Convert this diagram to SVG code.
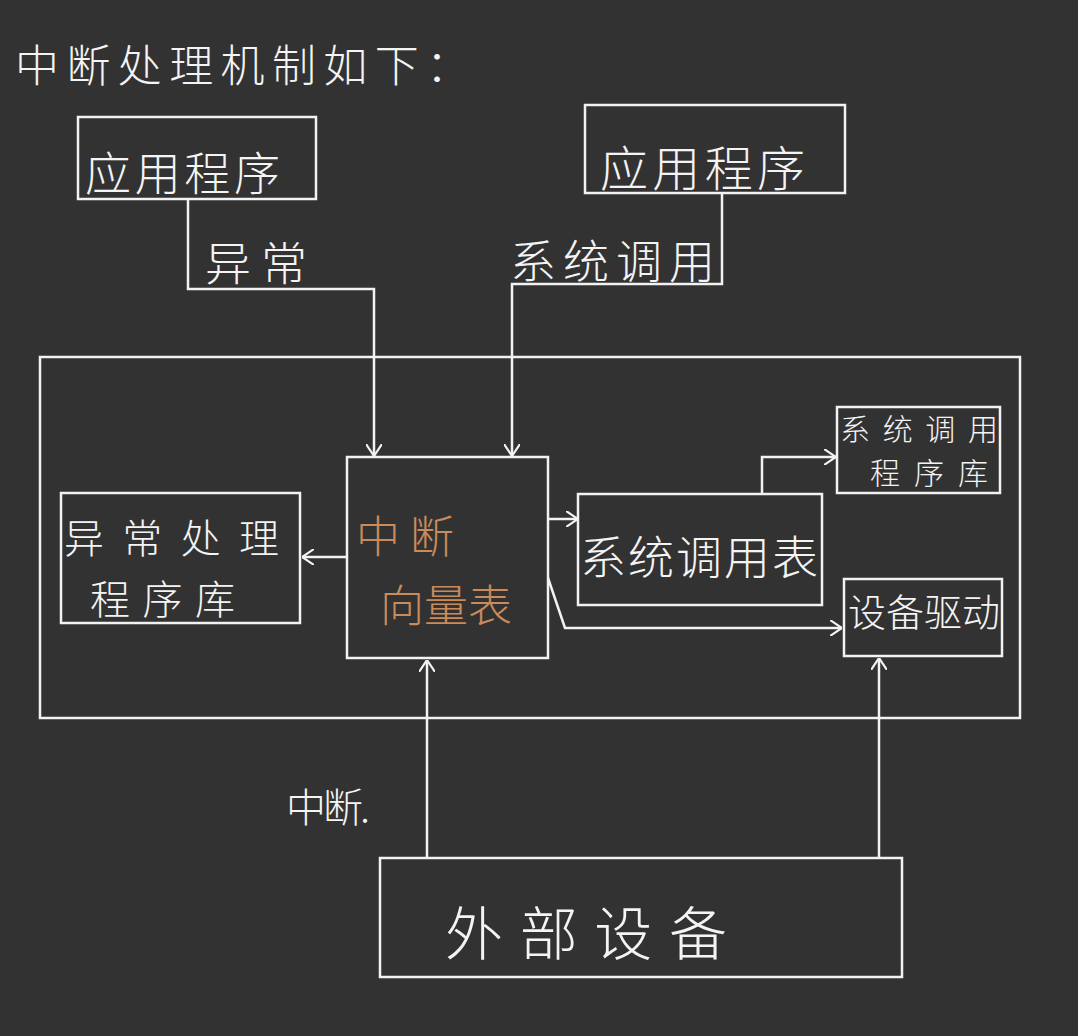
<svg xmlns="http://www.w3.org/2000/svg" width="1078" height="1036" viewBox="0 0 1078 1036">
<style>
.bg{fill:#323232}
.box{fill:none;stroke:#f2f2f2;stroke-width:2.5}
.ln{fill:none;stroke:#f2f2f2;stroke-width:2.5;stroke-linejoin:miter}
.t{font-family:"Noto Sans CJK SC","Noto Sans CJK JP",sans-serif;font-weight:300;fill:#f4f4f4}
.o{fill:#c98a5c}
</style>
<defs>
<marker id="ah" viewBox="0 0 12 16" refX="12" refY="8" markerWidth="12" markerHeight="16" markerUnits="userSpaceOnUse" orient="auto">
<path d="M0,0 L12,8 L0,16" fill="none" stroke="#f2f2f2" stroke-width="2.2"/>
</marker>
</defs>
<rect class="bg" x="0" y="0" width="1078" height="1036"/>
<text class="t" x="15" y="82" font-size="44" textLength="455" lengthAdjust="spacing">中断处理机制如下：</text>

<g id="outer"><rect class="box" x="40" y="357" width="980" height="361"/></g>

<g id="app1"><rect class="box" x="78" y="117" width="238" height="82"/>
<text class="t" x="85" y="190" font-size="46" textLength="195" lengthAdjust="spacing">应用程序</text></g>

<g id="app2"><rect class="box" x="585" y="105" width="260" height="88"/>
<text class="t" x="600" y="186" font-size="48" textLength="205" lengthAdjust="spacing">应用程序</text></g>

<g id="vector"><rect class="box" x="347" y="457" width="201" height="201"/>
<text class="t o" x="356" y="553" font-size="44" textLength="98" lengthAdjust="spacing">中断</text>
<text class="t o" x="380" y="622" font-size="44" textLength="132" lengthAdjust="spacing">向量表</text></g>

<g id="exc"><rect class="box" x="61" y="493" width="239" height="130"/>
<text class="t" x="64" y="553" font-size="40" textLength="215" lengthAdjust="spacing">异常处理</text>
<text class="t" x="90" y="614" font-size="40" textLength="145" lengthAdjust="spacing">程序库</text></g>

<g id="sctable"><rect class="box" x="578" y="494" width="244" height="111"/>
<text class="t" x="580" y="574" font-size="46" textLength="238" lengthAdjust="spacing">系统调用表</text></g>

<g id="scprog"><rect class="box" x="837" y="407" width="163" height="86"/>
<text class="t" x="840" y="440" font-size="30" textLength="158" lengthAdjust="spacing">系统调用</text>
<text class="t" x="870" y="484" font-size="30" textLength="118" lengthAdjust="spacing">程序库</text></g>

<g id="driver"><rect class="box" x="844" y="579" width="158" height="77"/>
<text class="t" x="848" y="626" font-size="38" textLength="152" lengthAdjust="spacing">设备驱动</text></g>

<g id="ext"><rect class="box" x="380" y="858" width="522" height="119"/>
<text class="t" x="445" y="955" font-size="58" textLength="282" lengthAdjust="spacing">外部设备</text></g>

<g id="labels">
<text class="t" x="205" y="280" font-size="46" textLength="102" lengthAdjust="spacing">异常</text>
<text class="t" x="510" y="278" font-size="46" textLength="205" lengthAdjust="spacing">系统调用</text>
<text class="t" x="286" y="822" font-size="40" textLength="84" lengthAdjust="spacing">中断.</text>
</g>

<g id="connectors">
<path class="ln" d="M188,199 V289 H374 V456" marker-end="url(#ah)"/>
<path class="ln" d="M722,193 V284 H512 V456" marker-end="url(#ah)"/>
<path class="ln" d="M347,557 H302" marker-end="url(#ah)"/>
<path class="ln" d="M548,519 H578" marker-end="url(#ah)"/>
<path class="ln" d="M762,494 V457 H836" marker-end="url(#ah)"/>
<path class="ln" d="M548,578 L565,628 H842" marker-end="url(#ah)"/>
<path class="ln" d="M427,858 V660" marker-end="url(#ah)"/>
<path class="ln" d="M879,858 V658" marker-end="url(#ah)"/>
</g>
</svg>
